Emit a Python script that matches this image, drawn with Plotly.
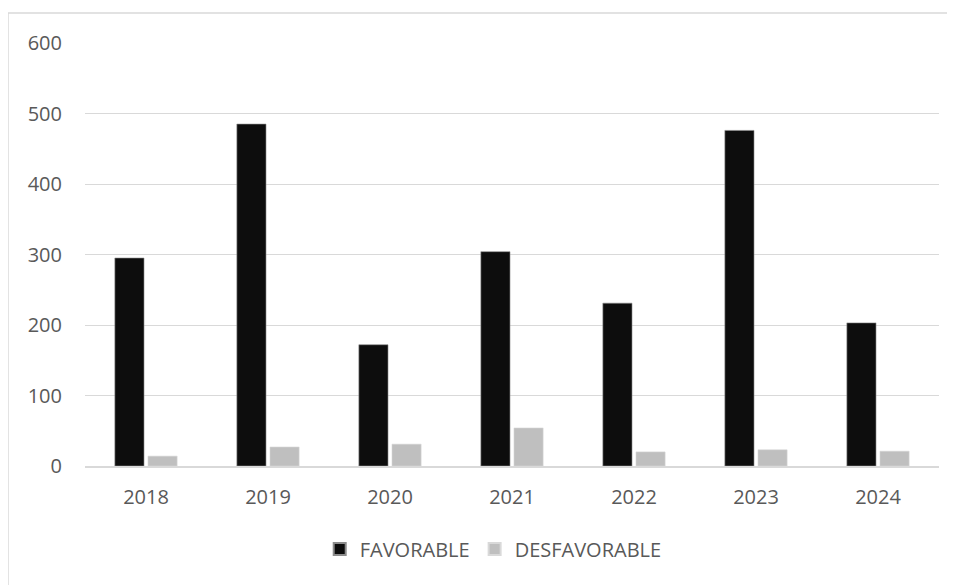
import plotly.graph_objects as go

years = ["2018", "2019", "2020", "2021", "2022", "2023", "2024"]
favorable = [295, 485, 172, 304, 231, 476, 203]
desfavorable = [14, 27, 31, 54, 20, 23, 21]
y_ticks = [0, 100, 200, 300, 400, 500, 600]

FONT = "Open Sans, Liberation Sans, sans-serif"

fig = go.Figure()
fig.add_trace(go.Bar(x=years, y=favorable, name="FAVORABLE",
                     marker=dict(color="#0d0d0d", line=dict(color="#8c8c8c", width=0.6))))
fig.add_trace(go.Bar(x=years, y=desfavorable, name="DESFAVORABLE",
                     marker=dict(color="#bfbfbf", line=dict(color="#d9d9d9", width=0.6))))

# the page body has an 8px margin, so the figure is 8px smaller and margins shifted
fig.update_layout(
    width=947, height=577,
    margin=dict(l=77, r=16, t=35, b=119),
    paper_bgcolor="white", plot_bgcolor="white",
    barmode="group", bargap=0.457, bargroupgap=0.12,
    font=dict(family=FONT, size=20, color="#595959"),
    showlegend=True,
    legend=dict(orientation="h", x=0.478, xanchor="center", y=-0.196, yanchor="middle",
                font=dict(family=FONT, size=20, color="#595959"),
                itemwidth=30, traceorder="normal", itemsizing="constant"),
    xaxis=dict(showgrid=False, showline=True, linecolor="#d9d9d9", linewidth=1.5,
               ticks="", ticklabelstandoff=12, tickfont=dict(size=20, color="#595959")),
    yaxis=dict(range=[0, 600], tickvals=y_ticks, showgrid=True, gridcolor="#d9d9d9",
               gridwidth=1, zeroline=False, showline=False, ticks="",
               ticklabelstandoff=22, tickfont=dict(size=20, color="#595959")),
)

fig.add_shape(type="rect", xref="paper", yref="paper",
              x0=-0.0902, x1=1.0129, y0=-0.30, y1=1.0709,
              line=dict(color="#d9d9d9", width=1.5), fillcolor="rgba(0,0,0,0)", layer="below")

fig.write_html("out.html")
